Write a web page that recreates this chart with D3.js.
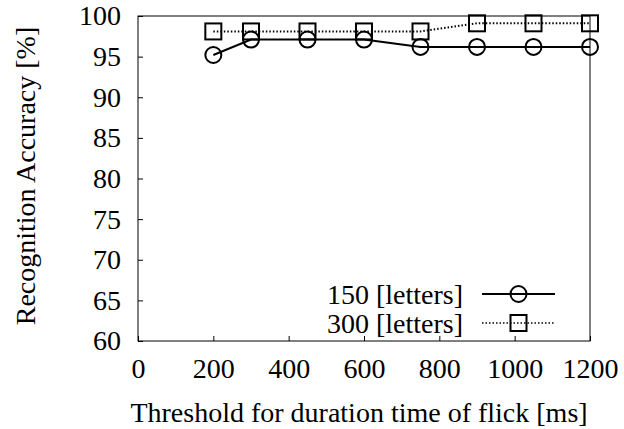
<!DOCTYPE html>
<html>
<head>
<meta charset="utf-8">
<script src="https://cdn.jsdelivr.net/npm/d3@7"></script>
<style>
body { margin: 0; background: #fff; }
text { font-family: "Liberation Serif", "Times New Roman", serif; fill: #000; }
</style>
</head>
<body>
<svg width="624" height="429"></svg>
<script>
// Recognition accuracy vs flick duration threshold

var thresholds = [200, 300, 450, 600, 750, 900, 1050, 1200];
var acc150 = [95.2, 97.1, 97.1, 97.1, 96.2, 96.2, 96.2, 96.2];
var acc300 = [98.1, 98.1, 98.1, 98.1, 98.1, 99.1, 99.1, 99.1];
var xTicks = [0, 200, 400, 600, 800, 1000, 1200];
var yTicks = [60, 65, 70, 75, 80, 85, 90, 95, 100];

var series = [
	{name: "150 [letters]", values: acc150, marker: "circle", dash: null},
	{name: "300 [letters]", values: acc300, marker: "square", dash: "1.5,2"}
];

var svg = d3.select("svg");
var plotLeft = 138, plotRight = 590, plotTop = 16, plotBottom = 341;
var fs = 28;

var x = d3.scaleLinear().domain([0, 1200]).range([plotLeft, plotRight]);
var y = d3.scaleLinear().domain([60, 100]).range([plotBottom, plotTop]);

// axes with inward ticks
svg.append("g")
	.attr("transform", "translate(0," + plotBottom + ")")
	.call(d3.axisBottom(x).tickValues(xTicks).tickFormat(d3.format("d")).tickSizeInner(-5).tickSizeOuter(0).tickPadding(17))
	.call(g => g.select(".domain").remove())
	.call(g => g.attr("font-size", fs).attr("font-family", "'Liberation Serif', serif"));

svg.append("g")
	.attr("transform", "translate(" + plotLeft + ",0)")
	.call(d3.axisLeft(y).tickValues(yTicks).tickSizeInner(-5).tickSizeOuter(0).tickPadding(17))
	.call(g => g.select(".domain").remove())
	.call(g => g.attr("font-size", fs).attr("font-family", "'Liberation Serif', serif"));

svg.selectAll(".tick line").attr("stroke", "#000");

svg.append("rect")
	.attr("x", plotLeft).attr("y", plotTop)
	.attr("width", plotRight - plotLeft).attr("height", plotBottom - plotTop)
	.attr("fill", "none").attr("stroke", "#000").attr("stroke-width", 1);

// labels
svg.append("text")
	.attr("x", 359).attr("y", 422)
	.attr("text-anchor", "middle").attr("font-size", fs)
	.text("Threshold for duration time of flick [ms]");

svg.append("text")
	.attr("transform", "translate(35,176) rotate(-90)")
	.attr("text-anchor", "middle").attr("font-size", fs)
	.text("Recognition Accuracy [%]");

function drawMarker(g, type, cx, cy) {
	if (type == "circle") {
		g.append("circle").attr("cx", cx).attr("cy", cy).attr("r", 8)
			.attr("fill", "none").attr("stroke", "#000").attr("stroke-width", 2);
	} else {
		g.append("rect").attr("x", cx - 8).attr("y", cy - 8).attr("width", 16).attr("height", 16)
			.attr("fill", "none").attr("stroke", "#000").attr("stroke-width", 2);
	}
}

var line = d3.line().x(d => x(d[0])).y(d => y(d[1]));

series.forEach(function(s) {
	var pts = thresholds.map((t, i) => [t, s.values[i]]);
	var g = svg.append("g");
	g.append("path").datum(pts).attr("d", line)
		.attr("fill", "none").attr("stroke", "#000")
		.attr("stroke-width", 2)
		.attr("stroke-dasharray", s.dash);
	pts.forEach(p => drawMarker(g, s.marker, x(p[0]), y(p[1])));
});

// legend
series.forEach(function(s, i) {
	var ly = 294 + i * 29;
	var g = svg.append("g");
	g.append("text").attr("x", 463).attr("y", ly).attr("dy", "0.35em")
		.attr("text-anchor", "end").attr("font-size", fs).text(s.name);
	g.append("line").attr("x1", 482).attr("x2", 555).attr("y1", ly).attr("y2", ly)
		.attr("stroke", "#000").attr("stroke-width", s.dash ? 1.5 : 2)
		.attr("stroke-dasharray", s.dash);
	drawMarker(g, s.marker, 518.5, ly);
});
</script>
</body>
</html>
